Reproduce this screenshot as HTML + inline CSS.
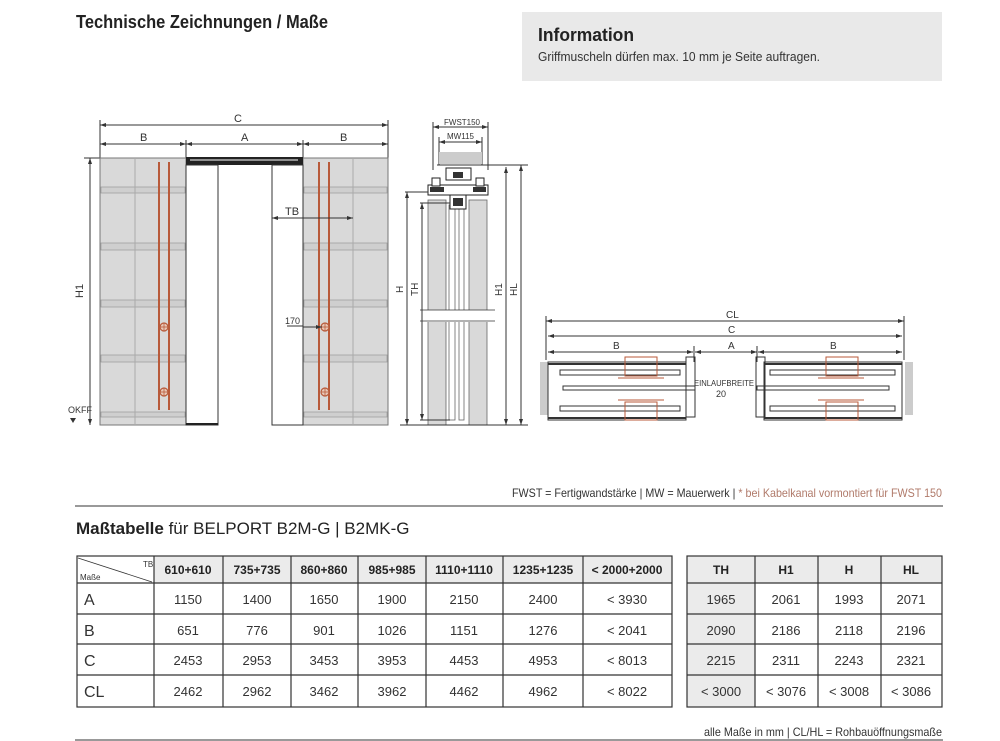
<!DOCTYPE html>
<html><head><meta charset="utf-8"><style>
body{margin:0;background:#fff;}
svg{display:block;font-family:"Liberation Sans",sans-serif;}
</style></head><body>
<svg width="1000" height="741" viewBox="0 0 1000 741" xmlns="http://www.w3.org/2000/svg">
<defs>
<marker id="a" markerWidth="6" markerHeight="6" refX="6" refY="3" orient="auto-start-reverse" markerUnits="userSpaceOnUse"><path d="M0,1 L6,3 L0,5z" fill="#333"/></marker>
</defs>
<!-- headings -->
<text x="76" y="28" font-size="18" font-weight="bold" fill="#222" textLength="252" lengthAdjust="spacingAndGlyphs">Technische Zeichnungen / Maße</text>
<rect x="522" y="12" width="420" height="69" fill="#e9e9e9"/>
<text x="538" y="41" font-size="18" font-weight="bold" fill="#222" textLength="96" lengthAdjust="spacingAndGlyphs">Information</text>
<text x="538" y="61" font-size="13" fill="#333" textLength="282" lengthAdjust="spacingAndGlyphs">Griffmuscheln dürfen max. 10 mm je Seite auftragen.</text>

<g stroke="#333" stroke-width="1" fill="none">
<!-- front view dims -->
<line x1="100" y1="125" x2="388" y2="125" marker-start="url(#a)" marker-end="url(#a)"/>
<line x1="100" y1="144" x2="186" y2="144" marker-start="url(#a)" marker-end="url(#a)"/>
<line x1="186" y1="144" x2="303" y2="144" marker-start="url(#a)" marker-end="url(#a)"/>
<line x1="303" y1="144" x2="388" y2="144" marker-start="url(#a)" marker-end="url(#a)"/>
<line x1="100" y1="120" x2="100" y2="158"/><line x1="388" y1="120" x2="388" y2="158"/>
<line x1="186" y1="140" x2="186" y2="158"/><line x1="303" y1="140" x2="303" y2="158"/>
<line x1="84" y1="158" x2="100" y2="158"/>
<line x1="90" y1="158" x2="90" y2="425" marker-start="url(#a)" marker-end="url(#a)"/>
</g>
<g font-size="11" fill="#333">
<text x="234" y="122">C</text><text x="140" y="141">B</text><text x="241" y="141">A</text><text x="340" y="141">B</text>
<text x="83" y="298" transform="rotate(-90 83 298)">H1</text>
<text x="68" y="413" font-size="9">OKFF</text>
</g>
<path d="M70,418 L76,418 L73,423z" fill="#333"/>
<!-- panels -->
<g stroke="#777" stroke-width="1">
<rect x="100" y="158" width="86" height="267" fill="#d9d9d9"/>
<rect x="303" y="158" width="85" height="267" fill="#d9d9d9"/>
</g>
<g fill="#cfcfcf" stroke="#999" stroke-width=".7">
<rect x="101" y="187" width="84" height="6"/><rect x="101" y="243" width="84" height="7"/><rect x="101" y="300" width="84" height="7"/><rect x="101" y="355" width="84" height="7"/><rect x="101" y="412" width="84" height="5"/>
<rect x="304" y="187" width="83" height="6"/><rect x="304" y="243" width="83" height="7"/><rect x="304" y="300" width="83" height="7"/><rect x="304" y="355" width="83" height="7"/><rect x="304" y="412" width="83" height="5"/>
</g>
<g stroke="#aaa"><line x1="135" y1="158" x2="135" y2="425"/><line x1="353" y1="158" x2="353" y2="425"/></g>
<g stroke="#b85a3a" stroke-width="2">
<line x1="159" y1="162" x2="159" y2="410"/><line x1="169" y1="162" x2="169" y2="410"/>
<line x1="319" y1="162" x2="319" y2="410"/><line x1="329" y1="162" x2="329" y2="410"/>
</g>
<g stroke="#b85a3a" stroke-width="1.2" fill="#e8c8b8">
<circle cx="164" cy="327" r="4"/><circle cx="164" cy="392" r="4"/><circle cx="325" cy="327" r="4"/><circle cx="325" cy="392" r="4"/>
</g>
<g stroke="#b85a3a" stroke-width=".8">
<line x1="160" y1="327" x2="168" y2="327"/><line x1="164" y1="323" x2="164" y2="331"/>
<line x1="160" y1="392" x2="168" y2="392"/><line x1="164" y1="388" x2="164" y2="396"/>
<line x1="321" y1="327" x2="329" y2="327"/><line x1="325" y1="323" x2="325" y2="331"/>
<line x1="321" y1="392" x2="329" y2="392"/><line x1="325" y1="388" x2="325" y2="396"/>
</g>
<rect x="186" y="157" width="117" height="8" fill="#222"/>
<g stroke="#fff" stroke-width="1"><line x1="190" y1="160" x2="298" y2="160"/></g>
<g stroke="#333" fill="#fff" stroke-width="1">
<rect x="186" y="165" width="32" height="260"/>
<rect x="272" y="165" width="31" height="260"/>
</g>
<line x1="186" y1="424" x2="218" y2="424" stroke="#222" stroke-width="2"/>
<g stroke="#333" fill="none">
<line x1="272" y1="218" x2="353" y2="218" marker-start="url(#a)" marker-end="url(#a)"/>
<line x1="287" y1="326" x2="303" y2="326"/><line x1="303" y1="327" x2="322" y2="327" marker-end="url(#a)"/>
</g>
<text x="285" y="215" font-size="11" fill="#333">TB</text>
<text x="285" y="324" font-size="9" fill="#333">170</text>

<!-- side view -->
<g stroke="#333" fill="none">
<line x1="433" y1="127" x2="488" y2="127" marker-start="url(#a)" marker-end="url(#a)"/>
<line x1="433" y1="122" x2="433" y2="170"/><line x1="488" y1="122" x2="488" y2="170"/>
<line x1="439" y1="142" x2="482" y2="142" marker-start="url(#a)" marker-end="url(#a)"/>
<line x1="439" y1="137" x2="439" y2="165"/><line x1="482" y1="137" x2="482" y2="165"/>
</g>
<text x="444" y="125" font-size="8" fill="#333">FWST150</text>
<text x="447" y="139" font-size="8" fill="#333">MW115</text>
<rect x="439" y="152" width="43" height="12" fill="#ccc"/>
<line x1="437" y1="165" x2="528" y2="165" stroke="#333"/>
<g fill="#d9d9d9" stroke="#666" stroke-width=".8">
<rect x="428" y="200" width="18" height="225"/>
<rect x="469" y="200" width="18" height="225"/>
<rect x="449" y="205" width="6" height="215" fill="#fff"/>
<rect x="459" y="205" width="5" height="215" fill="#fff"/>
</g>
<rect x="420" y="310" width="75" height="12" fill="#fff"/>
<g stroke="#333" stroke-width=".8"><line x1="420" y1="310" x2="495" y2="310"/><line x1="420" y1="321" x2="495" y2="321"/></g>
<g fill="#fff" stroke="#222" stroke-width="1">
<rect x="446" y="168" width="25" height="12"/>
<rect x="428" y="185" width="60" height="10"/>
<rect x="450" y="195" width="16" height="14"/>
<rect x="432" y="178" width="8" height="8"/><rect x="476" y="178" width="8" height="8"/>
</g>
<g fill="#333"><rect x="430" y="187" width="14" height="5"/><rect x="473" y="187" width="13" height="5"/><rect x="453" y="172" width="10" height="6"/><rect x="453" y="198" width="10" height="8"/></g>
<line x1="400" y1="425" x2="528" y2="425" stroke="#333"/>
<g stroke="#333" fill="none">
<line x1="405" y1="192" x2="428" y2="192"/>
<line x1="407" y1="192" x2="407" y2="425" marker-start="url(#a)" marker-end="url(#a)"/>
<line x1="420" y1="203" x2="450" y2="203"/>
<line x1="422" y1="203" x2="422" y2="420" marker-start="url(#a)" marker-end="url(#a)"/>
<line x1="420" y1="420" x2="450" y2="420"/>
<line x1="506" y1="167" x2="506" y2="425" marker-start="url(#a)" marker-end="url(#a)"/>
<line x1="521" y1="165" x2="521" y2="425" marker-start="url(#a)" marker-end="url(#a)"/>
</g>
<g font-size="10" fill="#333">
<text x="403" y="293" transform="rotate(-90 403 293)">H</text>
<text x="418" y="296" transform="rotate(-90 418 296)">TH</text>
<text x="502" y="296" transform="rotate(-90 502 296)">H1</text>
<text x="517" y="296" transform="rotate(-90 517 296)">HL</text>
</g>

<!-- plan view -->
<g stroke="#333" fill="none">
<line x1="546" y1="321" x2="904" y2="321" marker-start="url(#a)" marker-end="url(#a)"/>
<line x1="546" y1="316" x2="546" y2="360"/><line x1="904" y1="316" x2="904" y2="360"/>
<line x1="548" y1="336" x2="902" y2="336" marker-start="url(#a)" marker-end="url(#a)"/>
<line x1="548" y1="352" x2="693" y2="352" marker-start="url(#a)" marker-end="url(#a)"/>
<line x1="695" y1="352" x2="757" y2="352" marker-start="url(#a)" marker-end="url(#a)"/>
<line x1="758" y1="352" x2="902" y2="352" marker-start="url(#a)" marker-end="url(#a)"/>
<line x1="694" y1="346" x2="694" y2="362"/><line x1="757" y1="346" x2="757" y2="362"/>
</g>
<g font-size="10" fill="#333">
<text x="726" y="318">CL</text><text x="728" y="333">C</text><text x="613" y="349">B</text><text x="728" y="349">A</text><text x="830" y="349">B</text>
<text x="694" y="386" font-size="8" textLength="60" lengthAdjust="spacingAndGlyphs">EINLAUFBREITE</text>
<text x="716" y="397" font-size="9">20</text>
</g>
<rect x="540" y="362" width="8" height="53" fill="#ccc"/>
<rect x="905" y="362" width="8" height="53" fill="#ccc"/>
<g stroke="#333" fill="none" stroke-width="1">
<rect x="548" y="362" width="138" height="58"/>
<rect x="764" y="362" width="138" height="58"/>
<line x1="548" y1="364" x2="686" y2="364" stroke-width="2"/>
<line x1="764" y1="364" x2="902" y2="364" stroke-width="2"/>
<line x1="548" y1="418" x2="686" y2="418" stroke-width="2"/>
<line x1="764" y1="418" x2="902" y2="418" stroke-width="2"/>
<rect x="560" y="370" width="120" height="5"/><rect x="770" y="370" width="125" height="5"/>
<rect x="560" y="406" width="120" height="5"/><rect x="770" y="406" width="125" height="5"/>
<rect x="563" y="386" width="132" height="4"/><rect x="757" y="386" width="132" height="4"/>
<rect x="686" y="357" width="9" height="60"/><rect x="756" y="357" width="9" height="60"/>
</g>
<g stroke="#b85a3a" fill="none" stroke-width="1">
<rect x="625" y="357" width="32" height="19"/><rect x="826" y="357" width="32" height="19"/>
<rect x="625" y="402" width="32" height="18"/><rect x="826" y="402" width="32" height="18"/>
<line x1="618" y1="378" x2="664" y2="378"/><line x1="818" y1="378" x2="864" y2="378"/>
<line x1="618" y1="400" x2="664" y2="400"/><line x1="818" y1="400" x2="864" y2="400"/>
</g>

<!-- legend line -->
<text x="942" y="497" font-size="12" fill="#333" text-anchor="end" textLength="430" lengthAdjust="spacingAndGlyphs">FWST = Fertigwandstärke | MW = Mauerwerk | <tspan fill="#b07a6a">* bei Kabelkanal vormontiert für FWST 150</tspan></text>
<line x1="75" y1="506" x2="943" y2="506" stroke="#333"/>
<text x="76" y="534" font-size="17" fill="#222"><tspan font-weight="bold">Maßtabelle</tspan> für BELPORT B2M-G | B2MK-G</text>

<!-- left table -->
<rect x="77" y="556" width="595" height="27" fill="#ebebeb"/>
<rect x="77" y="556" width="77" height="27" fill="#fff"/>
<g stroke="#333" stroke-width="1.2" fill="none">
<rect x="77" y="556" width="595" height="151"/>
<line x1="77" y1="583" x2="672" y2="583"/><line x1="77" y1="614" x2="672" y2="614"/><line x1="77" y1="644" x2="672" y2="644"/><line x1="77" y1="675" x2="672" y2="675"/>
<line x1="154" y1="556" x2="154" y2="707"/><line x1="223" y1="556" x2="223" y2="707"/><line x1="291" y1="556" x2="291" y2="707"/><line x1="358" y1="556" x2="358" y2="707"/><line x1="426" y1="556" x2="426" y2="707"/><line x1="503" y1="556" x2="503" y2="707"/><line x1="583" y1="556" x2="583" y2="707"/>
<line x1="78" y1="558" x2="152" y2="582" stroke-width=".8"/>
</g>
<text x="143" y="567" font-size="8" fill="#333">TB</text>
<text x="80" y="580" font-size="8" fill="#333">Maße</text>
<g font-size="12" font-weight="bold" fill="#222" text-anchor="middle">
<text x="188" y="574">610+610</text><text x="257" y="574">735+735</text><text x="324" y="574">860+860</text><text x="392" y="574">985+985</text><text x="464" y="574">1110+1110</text><text x="543" y="574">1235+1235</text><text x="627" y="574">&lt; 2000+2000</text>
</g>
<g font-size="16" fill="#333"><text x="84" y="605">A</text><text x="84" y="636">B</text><text x="84" y="666">C</text><text x="84" y="697">CL</text></g>
<g font-size="13" fill="#333" text-anchor="middle">
<text x="188" y="604">1150</text><text x="257" y="604">1400</text><text x="324" y="604">1650</text><text x="392" y="604">1900</text><text x="464" y="604">2150</text><text x="543" y="604">2400</text><text x="627" y="604">&lt; 3930</text>
<text x="188" y="635">651</text><text x="257" y="635">776</text><text x="324" y="635">901</text><text x="392" y="635">1026</text><text x="464" y="635">1151</text><text x="543" y="635">1276</text><text x="627" y="635">&lt; 2041</text>
<text x="188" y="665">2453</text><text x="257" y="665">2953</text><text x="324" y="665">3453</text><text x="392" y="665">3953</text><text x="464" y="665">4453</text><text x="543" y="665">4953</text><text x="627" y="665">&lt; 8013</text>
<text x="188" y="696">2462</text><text x="257" y="696">2962</text><text x="324" y="696">3462</text><text x="392" y="696">3962</text><text x="464" y="696">4462</text><text x="543" y="696">4962</text><text x="627" y="696">&lt; 8022</text>
</g>

<!-- right table -->
<rect x="687" y="556" width="255" height="27" fill="#ebebeb"/>
<rect x="687" y="583" width="68" height="124" fill="#ebebeb"/>
<g stroke="#333" stroke-width="1.2" fill="none">
<rect x="687" y="556" width="255" height="151"/>
<line x1="687" y1="583" x2="942" y2="583"/><line x1="687" y1="614" x2="942" y2="614"/><line x1="687" y1="644" x2="942" y2="644"/><line x1="687" y1="675" x2="942" y2="675"/>
<line x1="755" y1="556" x2="755" y2="707"/><line x1="818" y1="556" x2="818" y2="707"/><line x1="881" y1="556" x2="881" y2="707"/>
</g>
<g font-size="12" font-weight="bold" fill="#222" text-anchor="middle">
<text x="721" y="574">TH</text><text x="786" y="574">H1</text><text x="849" y="574">H</text><text x="911" y="574">HL</text>
</g>
<g font-size="13" fill="#333" text-anchor="middle">
<text x="721" y="604">1965</text><text x="786" y="604">2061</text><text x="849" y="604">1993</text><text x="911" y="604">2071</text>
<text x="721" y="635">2090</text><text x="786" y="635">2186</text><text x="849" y="635">2118</text><text x="911" y="635">2196</text>
<text x="721" y="665">2215</text><text x="786" y="665">2311</text><text x="849" y="665">2243</text><text x="911" y="665">2321</text>
<text x="721" y="696">&lt; 3000</text><text x="786" y="696">&lt; 3076</text><text x="849" y="696">&lt; 3008</text><text x="911" y="696">&lt; 3086</text>
</g>
<text x="942" y="736" font-size="12" fill="#333" text-anchor="end" textLength="238" lengthAdjust="spacingAndGlyphs">alle Maße in mm | CL/HL = Rohbauöffnungsmaße</text>
<line x1="75" y1="740" x2="943" y2="740" stroke="#333"/>
</svg>
</body></html>
